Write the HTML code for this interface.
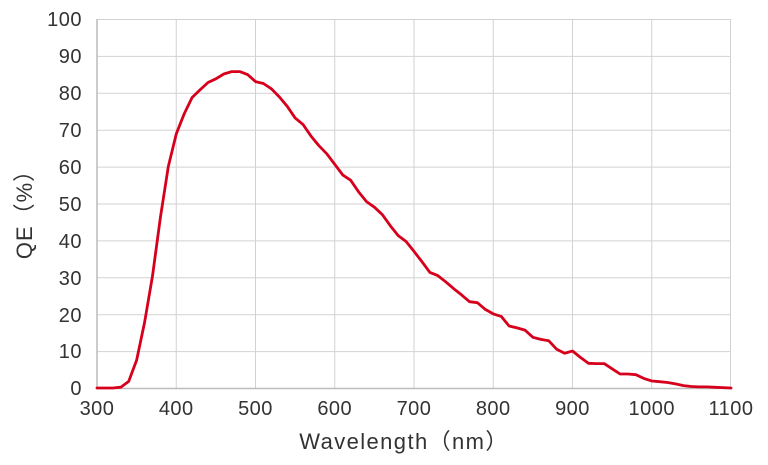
<!DOCTYPE html>
<html><head><meta charset="utf-8"><style>
html,body{margin:0;padding:0;background:#fff;}
svg{display:block;}
text{font-family:"Liberation Sans","Noto Sans CJK JP",sans-serif;fill:#333;}
</style></head><body>
<svg width="768" height="465" viewBox="0 0 768 465" xmlns="http://www.w3.org/2000/svg">
<g stroke="#d2d2d2" stroke-width="1" fill="none">
<line x1="97" y1="19.5" x2="731" y2="19.5"/>
<line x1="97" y1="56.4" x2="731" y2="56.4"/>
<line x1="97" y1="93.3" x2="731" y2="93.3"/>
<line x1="97" y1="130.2" x2="731" y2="130.2"/>
<line x1="97" y1="167.1" x2="731" y2="167.1"/>
<line x1="97" y1="204" x2="731" y2="204"/>
<line x1="97" y1="240.9" x2="731" y2="240.9"/>
<line x1="97" y1="277.8" x2="731" y2="277.8"/>
<line x1="97" y1="314.7" x2="731" y2="314.7"/>
<line x1="97" y1="351.6" x2="731" y2="351.6"/>
<line x1="176.25" y1="19" x2="176.25" y2="388"/>
<line x1="255.5" y1="19" x2="255.5" y2="388"/>
<line x1="334.75" y1="19" x2="334.75" y2="388"/>
<line x1="414" y1="19" x2="414" y2="388"/>
<line x1="493.25" y1="19" x2="493.25" y2="388"/>
<line x1="572.5" y1="19" x2="572.5" y2="388"/>
<line x1="651.75" y1="19" x2="651.75" y2="388"/>
<line x1="730.5" y1="19" x2="730.5" y2="388"/>
</g>
<g stroke="#bcbcbc" stroke-width="1.5">
<line x1="97" y1="19" x2="97" y2="388.5"/>
<line x1="97" y1="388.5" x2="731" y2="388.5"/>
</g>
<g font-size="20" text-anchor="end" letter-spacing="0.5">
<text x="82" y="26">100</text>
<text x="82" y="63">90</text>
<text x="82" y="100">80</text>
<text x="82" y="137">70</text>
<text x="82" y="174">60</text>
<text x="82" y="211">50</text>
<text x="82" y="248">40</text>
<text x="82" y="285">30</text>
<text x="82" y="322">20</text>
<text x="82" y="358">10</text>
<text x="82" y="395">0</text>
</g>
<g font-size="20" text-anchor="middle" letter-spacing="0.5">
<text x="97" y="415">300</text>
<text x="176.25" y="415">400</text>
<text x="255.5" y="415">500</text>
<text x="334.75" y="415">600</text>
<text x="414" y="415">700</text>
<text x="493.25" y="415">800</text>
<text x="572.5" y="415">900</text>
<text x="651.75" y="415">1000</text>
<text x="731" y="415">1100</text>
</g>
<text x="404" y="449" font-size="22" text-anchor="middle" letter-spacing="1.4">Wavelength（nm）</text>
<text transform="translate(32,209) rotate(-90)" font-size="22" text-anchor="middle" letter-spacing="1">QE（%）</text>
<polyline fill="none" stroke="#d7001c" stroke-width="2.8" stroke-linejoin="round" stroke-linecap="round" points="
97,388 104.9,388 112.9,388 120.8,387.2 128.7,381.4 136.6,360.3 144.6,322.3 152.5,276 160.4,217.4 168.3,166.6 176.3,133.8
184.2,113.8 192.1,97.5 200,89.9 208,82.5 215.9,78.8 223.8,74 231.7,71.6 239.7,71.6 247.6,74.6 255.5,81.6
263.4,83.5 271.4,88.8 279.3,96.9 287.2,106.3 295.1,117.9 303.1,124.6 311,136.1 318.9,145.7 326.8,153.8 334.8,164.4
342.7,174.9 350.6,180.2 358.5,191.7 366.5,201.6 374.4,207.2 382.3,214.6 390.2,225.6 398.2,235.6 406.1,241.5 414,251.4
421.9,261.6 429.9,272.4 437.8,275.6 445.7,281.8 453.6,288.6 461.6,294.9 469.5,301.7 477.4,302.7 485.3,309.4 493.3,313.9
501.2,316.4 509.1,326 517,327.9 525,330.1 532.9,337.3 540.8,339.4 548.7,340.7 556.7,349.3 564.6,353.3 572.5,351
580.4,357.4 588.4,363.3 596.3,363.6 604.2,363.6 612.1,368.8 620.1,374 628,374 635.9,374.7 643.8,378.4 651.8,381
659.7,381.7 667.6,382.5 675.5,383.9 683.5,385.6 691.4,386.5 699.3,386.9 707.2,386.9 715.2,387.3 723.1,387.6 731,388"/>
</svg>
</body></html>
